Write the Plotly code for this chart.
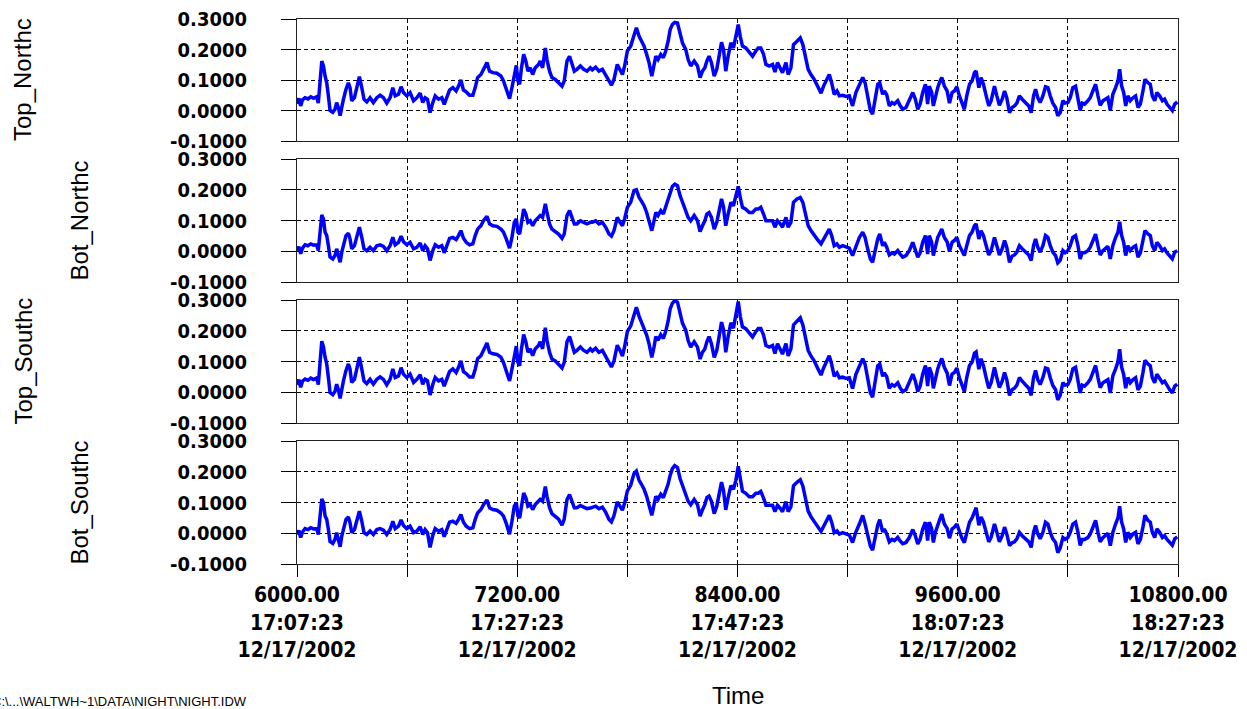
import plotly.graph_objects as go

# ---------------- data ----------------
t_sec = [6000, 6010, 6020, 6030, 6044, 6060, 6075, 6090, 6107, 6116,
         6135, 6144, 6153, 6162, 6171, 6180, 6195, 6207, 6216, 6225,
         6235, 6244, 6253, 6267, 6280, 6289, 6298, 6313, 6325, 6340,
         6353, 6365, 6380, 6398, 6416, 6435, 6453, 6471, 6489, 6507,
         6522, 6535, 6553, 6567, 6580, 6598, 6616, 6635, 6653, 6671,
         6685, 6698, 6711, 6725, 6740, 6753, 6771, 6789, 6802, 6816,
         6831, 6849, 6867, 6880, 6893, 6907, 6922, 6940, 6958, 6971,
         6984, 7002, 7016, 7035, 7049, 7067, 7089, 7111, 7125, 7140,
         7158, 7171, 7184, 7195, 7204, 7213, 7222, 7235, 7247, 7258,
         7271, 7284, 7298, 7316, 7325, 7338, 7353, 7362, 7376, 7389,
         7407, 7425, 7444, 7456, 7471, 7485, 7498, 7511, 7525, 7544,
         7562, 7580, 7598, 7609, 7627, 7645, 7664, 7682, 7700, 7713,
         7727, 7745, 7760, 7773, 7785, 7800, 7818, 7836, 7849, 7864,
         7876, 7891, 7905, 7918, 7933, 7945, 7955, 7967, 7982, 7996,
         8009, 8022, 8033, 8045, 8058, 8073, 8087, 8100, 8118, 8131,
         8145, 8164, 8182, 8196, 8209, 8222, 8233, 8245, 8258, 8273,
         8287, 8300, 8313, 8324, 8336, 8349, 8364, 8378, 8391, 8404,
         8415, 8427, 8445, 8464, 8482, 8500, 8513, 8527, 8542, 8555,
         8573, 8591, 8604, 8618, 8633, 8645, 8664, 8676, 8691, 8705,
         8724, 8742, 8756, 8773, 8785, 8800, 8818, 8836, 8855, 8869,
         8882, 8900, 8913, 8927, 8942, 8955, 8973, 8991, 9009, 9027,
         9045, 9064, 9082, 9095, 9109, 9124, 9136, 9149, 9164, 9175,
         9191, 9200, 9213, 9227, 9242, 9255, 9273, 9285, 9300, 9318,
         9336, 9355, 9369, 9382, 9395, 9409, 9424, 9436, 9445, 9458,
         9467, 9478, 9491, 9500, 9513, 9527, 9542, 9555, 9569, 9582,
         9595, 9609, 9624, 9636, 9649, 9664, 9678, 9691, 9700, 9715,
         9727, 9740, 9755, 9769, 9782, 9800, 9813, 9827, 9842, 9855,
         9867, 9882, 9896, 9909, 9922, 9936, 9951, 9969, 9987, 10000,
         10013, 10024, 10036, 10049, 10064, 10078, 10091, 10104, 10118, 10133,
         10145, 10158, 10173, 10185, 10200, 10213, 10227, 10242, 10255, 10267,
         10278, 10291, 10309, 10322, 10336, 10351, 10364, 10376, 10391, 10405,
         10418, 10431, 10445, 10460, 10473, 10482, 10493, 10504, 10515, 10527,
         10540, 10555, 10569, 10582, 10595, 10609, 10620, 10636, 10649, 10660,
         10673, 10685, 10700, 10715, 10727, 10740, 10755, 10769, 10782, 10796]

top_northc = [0.022, 0.040, 0.015, 0.035, 0.042, 0.038, 0.045, 0.040, 0.045, 0.024,
              0.162, 0.146, 0.113, 0.091, 0.048, 0.000, -0.006, 0.004, 0.026, 0.010,
              -0.017, 0.015, 0.037, 0.070, 0.091, 0.075, 0.032, 0.042, 0.075, 0.111,
              0.075, 0.037, 0.028, 0.042, 0.026, 0.042, 0.050, 0.042, 0.024, 0.042,
              0.075, 0.048, 0.053, 0.078, 0.059, 0.048, 0.059, 0.032, 0.042, 0.057,
              0.026, 0.042, 0.037, -0.007, 0.026, 0.048, 0.037, 0.042, 0.020, 0.042,
              0.067, 0.075, 0.064, 0.080, 0.100, 0.067, 0.061, 0.050, 0.050, 0.075,
              0.108, 0.118, 0.135, 0.157, 0.129, 0.124, 0.122, 0.113, 0.097, 0.070,
              0.039, 0.075, 0.124, 0.148, 0.097, 0.086, 0.135, 0.184, 0.162, 0.129,
              0.140, 0.118, 0.140, 0.151, 0.162, 0.140, 0.205, 0.167, 0.129, 0.108,
              0.102, 0.091, 0.080, 0.097, 0.162, 0.178, 0.151, 0.129, 0.135, 0.146,
              0.135, 0.129, 0.140, 0.133, 0.142, 0.129, 0.135, 0.118, 0.097, 0.083,
              0.102, 0.151, 0.135, 0.118, 0.146, 0.195, 0.211, 0.249, 0.271, 0.243,
              0.227, 0.211, 0.184, 0.157, 0.113, 0.146, 0.178, 0.167, 0.184, 0.173,
              0.195, 0.227, 0.265, 0.282, 0.289, 0.287, 0.249, 0.222, 0.200, 0.167,
              0.146, 0.162, 0.146, 0.108, 0.129, 0.140, 0.162, 0.178, 0.157, 0.113,
              0.135, 0.184, 0.224, 0.200, 0.129, 0.178, 0.222, 0.205, 0.243, 0.282,
              0.243, 0.211, 0.205, 0.189, 0.178, 0.195, 0.205, 0.205, 0.184, 0.151,
              0.146, 0.151, 0.126, 0.157, 0.140, 0.124, 0.157, 0.118, 0.140, 0.216,
              0.227, 0.238, 0.216, 0.167, 0.135, 0.118, 0.102, 0.080, 0.057, 0.080,
              0.097, 0.118, 0.091, 0.053, 0.064, 0.048, 0.050, 0.046, 0.048, 0.015,
              0.059, 0.086, 0.108, 0.091, 0.042, 0.000, -0.012, 0.037, 0.086, 0.091,
              0.053, 0.064, 0.052, 0.015, 0.026, 0.021, 0.032, 0.017, 0.004, 0.010,
              0.032, 0.059, 0.037, 0.004, 0.021, 0.059, 0.086, 0.021, 0.080, 0.059,
              0.015, 0.048, 0.075, 0.091, 0.108, 0.080, 0.064, 0.024, 0.059, 0.064,
              0.078, 0.048, 0.021, 0.004, 0.048, 0.086, 0.097, 0.124, 0.129, 0.075,
              0.108, 0.086, 0.048, 0.015, 0.032, 0.080, 0.048, 0.017, 0.037, 0.064,
              0.042, -0.007, 0.010, 0.015, 0.024, 0.048, 0.037, 0.024, 0.015, -0.007,
              0.048, 0.070, 0.042, 0.026, 0.048, 0.078, 0.075, 0.048, 0.024, 0.010,
              -0.017, -0.007, 0.032, 0.024, 0.026, 0.042, 0.075, 0.080, 0.042, 0.000,
              0.024, 0.021, 0.032, 0.042, 0.064, 0.086, 0.048, 0.017, 0.032, 0.037,
              0.042, 0.000, 0.053, 0.075, 0.097, 0.135, 0.080, 0.059, 0.015, 0.048,
              0.032, 0.042, 0.048, 0.010, 0.021, 0.064, 0.102, 0.091, 0.086, 0.048,
              0.032, 0.059, 0.048, 0.032, 0.037, 0.021, 0.010, 0.000, 0.021, 0.028]

bot_northc = [0.002, 0.015, -0.008, 0.010, 0.021, 0.018, 0.024, 0.020, 0.021, 0.002,
              0.118, 0.105, 0.062, 0.051, 0.018, -0.019, -0.025, -0.014, 0.008, -0.014,
              -0.036, -0.003, 0.018, 0.051, 0.059, 0.040, 0.008, 0.018, 0.045, 0.078,
              0.045, 0.008, 0.002, 0.013, 0.002, 0.018, 0.021, 0.016, 0.002, 0.018,
              0.045, 0.021, 0.029, 0.049, 0.031, 0.021, 0.029, 0.008, 0.013, 0.027,
              0.002, 0.018, 0.008, -0.030, 0.002, 0.021, 0.013, 0.018, -0.005, 0.018,
              0.042, 0.045, 0.038, 0.051, 0.067, 0.042, 0.029, 0.021, 0.024, 0.051,
              0.072, 0.083, 0.099, 0.114, 0.089, 0.083, 0.081, 0.072, 0.062, 0.040,
              0.010, 0.045, 0.094, 0.105, 0.062, 0.056, 0.094, 0.137, 0.121, 0.094,
              0.099, 0.083, 0.099, 0.110, 0.116, 0.110, 0.154, 0.126, 0.089, 0.072,
              0.064, 0.056, 0.042, 0.056, 0.116, 0.132, 0.110, 0.089, 0.089, 0.099,
              0.094, 0.089, 0.094, 0.094, 0.099, 0.089, 0.094, 0.078, 0.056, 0.049,
              0.067, 0.110, 0.094, 0.083, 0.105, 0.143, 0.159, 0.197, 0.200, 0.175,
              0.164, 0.148, 0.126, 0.099, 0.067, 0.099, 0.126, 0.116, 0.132, 0.121,
              0.143, 0.164, 0.191, 0.211, 0.218, 0.213, 0.181, 0.159, 0.126, 0.110,
              0.099, 0.116, 0.099, 0.064, 0.083, 0.099, 0.121, 0.126, 0.110, 0.072,
              0.094, 0.137, 0.170, 0.143, 0.083, 0.121, 0.159, 0.148, 0.175, 0.211,
              0.175, 0.143, 0.137, 0.126, 0.126, 0.137, 0.137, 0.143, 0.121, 0.099,
              0.099, 0.099, 0.078, 0.099, 0.089, 0.078, 0.110, 0.078, 0.094, 0.159,
              0.170, 0.175, 0.159, 0.116, 0.083, 0.067, 0.051, 0.038, 0.024, 0.038,
              0.051, 0.072, 0.051, 0.018, 0.024, 0.013, 0.018, 0.013, 0.010, -0.014,
              0.018, 0.045, 0.062, 0.045, 0.008, -0.025, -0.036, 0.002, 0.040, 0.056,
              0.018, 0.029, 0.013, -0.012, -0.005, -0.009, 0.002, -0.009, -0.019, -0.014,
              0.002, 0.029, 0.008, -0.019, -0.005, 0.029, 0.051, -0.009, 0.051, 0.029,
              -0.014, 0.018, 0.045, 0.056, 0.072, 0.045, 0.031, -0.001, 0.029, 0.035,
              0.045, 0.018, -0.003, -0.014, 0.018, 0.051, 0.062, 0.083, 0.089, 0.040,
              0.067, 0.051, 0.018, -0.012, 0.002, 0.045, 0.018, -0.012, 0.008, 0.035,
              0.013, -0.036, -0.016, -0.012, -0.003, 0.018, 0.008, -0.003, -0.012, -0.030,
              0.018, 0.040, 0.013, -0.003, 0.018, 0.051, 0.045, 0.018, -0.003, -0.014,
              -0.038, -0.030, 0.002, -0.005, 0.002, 0.018, 0.045, 0.051, 0.018, -0.025,
              -0.005, -0.005, 0.002, 0.013, 0.035, 0.056, 0.018, -0.012, 0.002, 0.010,
              0.016, -0.025, 0.018, 0.045, 0.062, 0.096, 0.051, 0.029, -0.014, 0.018,
              0.002, 0.013, 0.018, -0.019, -0.005, 0.035, 0.067, 0.056, 0.051, 0.018,
              0.002, 0.029, 0.018, 0.002, 0.008, -0.005, -0.016, -0.025, -0.003, 0.002]

top_southc = [0.024, 0.041, 0.016, 0.036, 0.043, 0.039, 0.046, 0.041, 0.046, 0.025,
              0.166, 0.148, 0.114, 0.092, 0.048, -0.001, -0.008, 0.003, 0.026, 0.009,
              -0.020, 0.015, 0.037, 0.071, 0.092, 0.075, 0.032, 0.042, 0.076, 0.114,
              0.075, 0.037, 0.028, 0.042, 0.026, 0.042, 0.050, 0.042, 0.024, 0.042,
              0.076, 0.048, 0.053, 0.080, 0.059, 0.048, 0.059, 0.032, 0.042, 0.057,
              0.026, 0.042, 0.037, -0.009, 0.026, 0.048, 0.037, 0.042, 0.020, 0.042,
              0.067, 0.076, 0.064, 0.081, 0.102, 0.067, 0.061, 0.050, 0.050, 0.075,
              0.109, 0.119, 0.137, 0.160, 0.130, 0.125, 0.123, 0.114, 0.097, 0.069,
              0.037, 0.075, 0.125, 0.150, 0.097, 0.086, 0.137, 0.188, 0.164, 0.130,
              0.141, 0.119, 0.141, 0.152, 0.164, 0.141, 0.210, 0.169, 0.130, 0.108,
              0.102, 0.091, 0.079, 0.097, 0.164, 0.181, 0.152, 0.130, 0.136, 0.147,
              0.136, 0.130, 0.141, 0.134, 0.143, 0.130, 0.136, 0.118, 0.096, 0.082,
              0.102, 0.153, 0.136, 0.118, 0.148, 0.198, 0.215, 0.254, 0.276, 0.247,
              0.230, 0.213, 0.186, 0.158, 0.113, 0.147, 0.181, 0.169, 0.187, 0.175,
              0.198, 0.231, 0.271, 0.289, 0.298, 0.293, 0.253, 0.225, 0.202, 0.168,
              0.147, 0.164, 0.147, 0.108, 0.130, 0.141, 0.164, 0.181, 0.158, 0.113,
              0.136, 0.187, 0.228, 0.203, 0.130, 0.181, 0.226, 0.208, 0.248, 0.295,
              0.247, 0.213, 0.207, 0.191, 0.180, 0.197, 0.207, 0.207, 0.186, 0.152,
              0.147, 0.152, 0.126, 0.158, 0.141, 0.124, 0.158, 0.118, 0.141, 0.219,
              0.231, 0.242, 0.219, 0.169, 0.136, 0.118, 0.102, 0.079, 0.056, 0.079,
              0.097, 0.119, 0.091, 0.052, 0.063, 0.047, 0.049, 0.045, 0.047, 0.012,
              0.058, 0.086, 0.109, 0.091, 0.041, -0.002, -0.016, 0.036, 0.086, 0.092,
              0.052, 0.063, 0.051, 0.013, 0.025, 0.020, 0.031, 0.016, 0.002, 0.008,
              0.031, 0.059, 0.036, 0.002, 0.020, 0.059, 0.087, 0.020, 0.081, 0.059,
              0.013, 0.048, 0.076, 0.092, 0.110, 0.081, 0.063, 0.022, 0.059, 0.064,
              0.079, 0.047, 0.020, 0.002, 0.048, 0.087, 0.098, 0.127, 0.131, 0.075,
              0.109, 0.086, 0.047, 0.013, 0.031, 0.081, 0.047, 0.015, 0.036, 0.064,
              0.041, -0.010, 0.008, 0.013, 0.023, 0.048, 0.036, 0.023, 0.013, -0.010,
              0.048, 0.071, 0.041, 0.025, 0.048, 0.079, 0.076, 0.047, 0.022, 0.008,
              -0.025, -0.010, 0.031, 0.023, 0.025, 0.042, 0.076, 0.081, 0.041, -0.002,
              0.023, 0.020, 0.031, 0.042, 0.064, 0.087, 0.047, 0.015, 0.031, 0.036,
              0.041, -0.002, 0.053, 0.076, 0.099, 0.140, 0.081, 0.058, 0.013, 0.048,
              0.031, 0.041, 0.047, 0.008, 0.020, 0.064, 0.104, 0.092, 0.086, 0.047,
              0.031, 0.059, 0.047, 0.031, 0.036, 0.020, 0.008, -0.002, 0.020, 0.026]

bot_southc = [-0.004, 0.009, -0.014, 0.004, 0.015, 0.012, 0.018, 0.014, 0.015, -0.004,
              0.112, 0.099, 0.056, 0.045, 0.012, -0.027, -0.033, -0.020, 0.002, -0.022,
              -0.044, -0.009, 0.012, 0.045, 0.053, 0.034, 0.002, 0.012, 0.039, 0.072,
              0.039, 0.002, -0.004, 0.007, -0.004, 0.012, 0.015, 0.010, -0.004, 0.012,
              0.039, 0.015, 0.023, 0.043, 0.025, 0.015, 0.023, 0.002, 0.007, 0.021,
              -0.004, 0.012, 0.002, -0.046, -0.006, 0.015, 0.007, 0.012, -0.011, 0.012,
              0.036, 0.039, 0.032, 0.045, 0.061, 0.036, 0.023, 0.015, 0.018, 0.045,
              0.066, 0.077, 0.093, 0.108, 0.083, 0.077, 0.075, 0.066, 0.056, 0.032,
              -0.003, 0.039, 0.088, 0.099, 0.056, 0.050, 0.088, 0.131, 0.115, 0.088,
              0.093, 0.077, 0.093, 0.104, 0.110, 0.104, 0.152, 0.120, 0.083, 0.064,
              0.056, 0.046, 0.026, 0.046, 0.110, 0.126, 0.104, 0.083, 0.083, 0.090,
              0.085, 0.080, 0.082, 0.085, 0.088, 0.080, 0.085, 0.068, 0.045, 0.037,
              0.057, 0.102, 0.086, 0.075, 0.098, 0.138, 0.156, 0.194, 0.202, 0.172,
              0.160, 0.143, 0.120, 0.092, 0.058, 0.092, 0.120, 0.110, 0.127, 0.116,
              0.138, 0.160, 0.188, 0.210, 0.220, 0.214, 0.178, 0.154, 0.120, 0.104,
              0.093, 0.110, 0.093, 0.056, 0.076, 0.093, 0.116, 0.121, 0.104, 0.064,
              0.088, 0.132, 0.166, 0.138, 0.076, 0.116, 0.155, 0.143, 0.172, 0.218,
              0.170, 0.137, 0.130, 0.119, 0.119, 0.130, 0.130, 0.136, 0.114, 0.091,
              0.091, 0.091, 0.070, 0.091, 0.081, 0.070, 0.103, 0.070, 0.086, 0.154,
              0.166, 0.174, 0.154, 0.108, 0.072, 0.054, 0.037, 0.022, 0.006, 0.022,
              0.036, 0.058, 0.036, 0.002, 0.008, -0.003, 0.002, -0.003, -0.006, -0.030,
              0.004, 0.030, 0.058, 0.030, -0.010, -0.042, -0.055, -0.014, 0.026, 0.044,
              0.004, 0.014, -0.002, -0.028, -0.020, -0.024, -0.013, -0.024, -0.034, -0.030,
              -0.014, 0.012, -0.008, -0.035, -0.020, 0.014, 0.036, -0.024, 0.036, 0.014,
              -0.030, 0.003, 0.030, 0.042, 0.062, 0.030, 0.016, -0.016, 0.014, 0.020,
              0.030, 0.003, -0.018, -0.030, 0.003, 0.036, 0.050, 0.074, 0.083, 0.026,
              0.053, 0.036, 0.003, -0.028, -0.013, 0.030, 0.003, -0.028, -0.008, 0.020,
              -0.002, -0.040, -0.031, -0.028, -0.018, 0.003, -0.008, -0.018, -0.028, -0.046,
              0.003, 0.025, -0.002, -0.018, 0.003, 0.036, 0.030, 0.003, -0.018, -0.030,
              -0.063, -0.048, -0.014, -0.020, -0.014, 0.003, 0.030, 0.036, 0.003, -0.040,
              -0.020, -0.020, -0.014, -0.002, 0.020, 0.042, 0.003, -0.028, -0.014, -0.006,
              0.000, -0.040, 0.003, 0.030, 0.050, 0.088, 0.036, 0.014, -0.030, 0.003,
              -0.014, -0.002, 0.003, -0.035, -0.020, 0.020, 0.058, 0.042, 0.036, 0.003,
              -0.014, 0.014, 0.003, -0.014, -0.008, -0.020, -0.031, -0.039, -0.018, -0.012]

series_names = ["Top_Northc", "Bot_Northc", "Top_Southc", "Bot_Southc"]
series_values = [top_northc, bot_northc, top_southc, bot_southc]

x_tick_vals = [6000, 6600, 7200, 7800, 8400, 9000, 9600, 10200, 10800]
x_tick_text = ["6000.00<br>17:07:23<br>12/17/2002", "",
               "7200.00<br>17:27:23<br>12/17/2002", "",
               "8400.00<br>17:47:23<br>12/17/2002", "",
               "9600.00<br>18:07:23<br>12/17/2002", "",
               "10800.00<br>18:27:23<br>12/17/2002"]
y_tick_vals = [-0.1, 0.0, 0.1, 0.2, 0.3]
y_tick_text = ["-0.1000", "0.0000", "0.1000", "0.2000", "0.3000"]
x_title = "Time"
footer = "C:\\...\\WALTWH~1\\DATA\\NIGHT\\NIGHT.IDW"

# ---------------- layout geometry (page pixels) ----------------
W, H = 1247, 709
plot_left, plot_right = 297, 1178
plot_top, plot_bottom = 19, 564
L, R, T, B = plot_left, W - plot_right, plot_top, H - plot_bottom
plot_h = plot_bottom - plot_top
plot_w = plot_right - plot_left
panel_px = [(19, 141), (159, 282), (300, 423), (441, 564)]  # top, bottom


def py(p):
    return (plot_bottom - p) / plot_h


def px(p):
    return (p - plot_left) / plot_w


fig = go.Figure()
ytick_font = dict(family="DejaVu Sans Condensed, DejaVu Sans", size=20,
                  color="black", weight="bold")
xtick_font = dict(family="DejaVu Sans Condensed, DejaVu Sans", size=21,
                  color="black", weight="bold")
title_font = dict(family="Liberation Sans, Arial", size=24, color="black")

layout = dict(
    width=W, height=H,
    margin=dict(l=L, r=R, t=T, b=B, pad=0, autoexpand=False),
    paper_bgcolor="white", plot_bgcolor="white",
    showlegend=False,
)

annotations = []
for i, (name, vals) in enumerate(zip(series_names, series_values)):
    k = "" if i == 0 else str(i + 1)
    fig.add_trace(go.Scatter(x=t_sec, y=vals, mode="lines",
                             line=dict(color="#0000FF", width=3.5),
                             xaxis="x" + k, yaxis="y" + k, name=name))
    top, bot = panel_px[i]
    last = (i == 3)
    layout["xaxis" + k] = dict(
        domain=[0, 1], anchor="y" + k, range=[6000, 10800],
        tickvals=x_tick_vals, ticktext=x_tick_text if last else [""] * 9,
        showticklabels=last, ticks="outside" if last else "", ticklen=12,
        tickcolor="black", tickwidth=1,
        tickfont=xtick_font, automargin=False, ticklabeloverflow="allow",
        showgrid=True, gridcolor="black", gridwidth=1, griddash="4px,3px",
        showline=True, linecolor="#222", linewidth=1, mirror=True,
        zeroline=False,
        matches=None if i == 0 else "x",
    )
    layout["yaxis" + k] = dict(
        domain=[py(bot), py(top)], anchor="x" + k, range=[-0.1, 0.3],
        tickvals=y_tick_vals, ticktext=y_tick_text,
        ticks="outside", ticklen=15, tickcolor="black", tickwidth=1,
        ticklabelstandoff=30,
        tickfont=ytick_font, automargin=False, ticklabeloverflow="allow",
        showgrid=True, gridcolor="black", gridwidth=1, griddash="4px,3px",
        showline=True, linecolor="#222", linewidth=1, mirror=True,
        zeroline=False,
    )
    annotations.append(dict(
        text=name, textangle=-90, showarrow=False,
        xref="paper", yref="paper",
        x=px(23 if i % 2 == 0 else 79), y=py((top + bot) / 2),
        xanchor="center", yanchor="middle", font=title_font))

annotations.append(dict(text=x_title, showarrow=False, xref="paper", yref="paper",
                        x=0.5, y=py(695), xanchor="center", yanchor="middle",
                        font=title_font))
annotations.append(dict(text=footer, showarrow=False, xref="paper", yref="paper",
                        x=px(-10), y=py(701), xanchor="left", yanchor="middle",
                        font=dict(family="Liberation Sans, Arial", size=13,
                                  color="black")))
layout["annotations"] = annotations
fig.update_layout(**layout)
fig.write_html("out.html",
               config={"displayModeBar": False},
               post_script="document.body.style.margin='0px';"
                           "document.body.style.overflow='hidden';")
